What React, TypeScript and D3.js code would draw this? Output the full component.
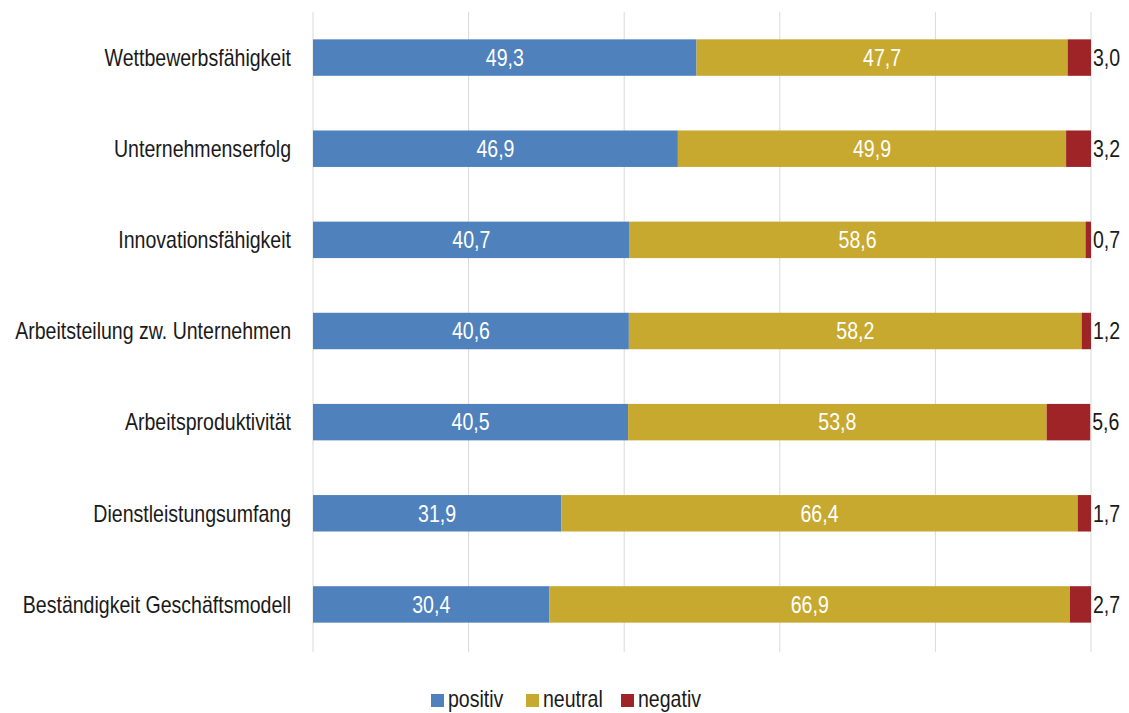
import { useEffect } from 'react';
import * as d3 from 'd3';

const categories = [
  'Wettbewerbsfähigkeit',
  'Unternehmenserfolg',
  'Innovationsfähigkeit',
  'Arbeitsteilung zw. Unternehmen',
  'Arbeitsproduktivität',
  'Dienstleistungsumfang',
  'Beständigkeit Geschäftsmodell',
];
const positiv = [49.3, 46.9, 40.7, 40.6, 40.5, 31.9, 30.4];
const neutral = [47.7, 49.9, 58.6, 58.2, 53.8, 66.4, 66.9];
const negativ = [3.0, 3.2, 0.7, 1.2, 5.6, 1.7, 2.7];
const seriesNames = ['positiv', 'neutral', 'negativ'];
const ticks = [0, 20, 40, 60, 80, 100];

const COLORS = ['#4f81bd', '#c8a92f', '#9e2428'];
const FONT = '"Liberation Sans Narrow", "Arial Narrow", "Liberation Sans", sans-serif';
const FS = 23;
const SX = 0.85; // narrow the fallback font horizontally

const W = 1129, H = 713;
const M = { left: 313, right: 38, top: 12, bottom: 63 };

const fmt = (v: number) => v.toFixed(1).replace('.', ',');

// condensed text helper: horizontal squeeze around the anchor point
function T({ x, y, anchor = 'start', fill = '#1a1a1a', children }: any) {
  return (
    <text transform={`translate(${x},${y}) scale(${SX},1)`} textAnchor={anchor} fontSize={FS} fill={fill}>
      {children}
    </text>
  );
}

export default function App() {
  useEffect(() => { document.body.style.margin = '0'; }, []);

  const x = d3.scaleLinear().domain([0, 100]).range([M.left, W - M.right]);
  const y = d3.scaleBand().domain(categories).range([M.top, H - M.bottom]).paddingInner(0.6).paddingOuter(0.3);
  const bw = y.bandwidth();

  const rows = categories.map((c, i) => ({ cat: c, positiv: positiv[i], neutral: neutral[i], negativ: negativ[i] }));
  const stack = d3.stack<any>().keys(seriesNames)(rows);

  const legendX = [431, 526, 621];

  return (
    <svg width={W} height={H} style={{ display: 'block', fontFamily: FONT }}>
      {ticks.map(t => (
        <line key={t} x1={x(t)} x2={x(t)} y1={M.top} y2={H - M.bottom + 2} stroke="#d9d9d9" strokeWidth={1} />
      ))}
      {stack.map((s, si) => (
        <g key={s.key}>
          {s.map((d, i) => {
            const x0 = x(d[0]), x1 = x(d[1]);
            const yy = y(categories[i])!;
            const val = d[1] - d[0];
            const ty = yy + bw / 2 + FS * 0.36;
            return (
              <g key={i}>
                <rect x={x0} y={yy} width={x1 - x0} height={bw} fill={COLORS[si]} />
                {si < 2
                  ? <T x={(x0 + x1) / 2} y={ty} anchor="middle" fill="#fff">{fmt(val)}</T>
                  : <T x={x1 + 2} y={ty}>{fmt(val)}</T>}
              </g>
            );
          })}
        </g>
      ))}
      {categories.map(c => (
        <T key={c} x={M.left - 22} y={y(c)! + bw / 2 + FS * 0.36} anchor="end">{c}</T>
      ))}
      {seriesNames.map((n, i) => (
        <g key={n} transform={`translate(${legendX[i]},694)`}>
          <rect x={0} y={0} width={13} height={13} fill={COLORS[i]} />
          <T x={17} y={13}>{n}</T>
        </g>
      ))}
    </svg>
  );
}
